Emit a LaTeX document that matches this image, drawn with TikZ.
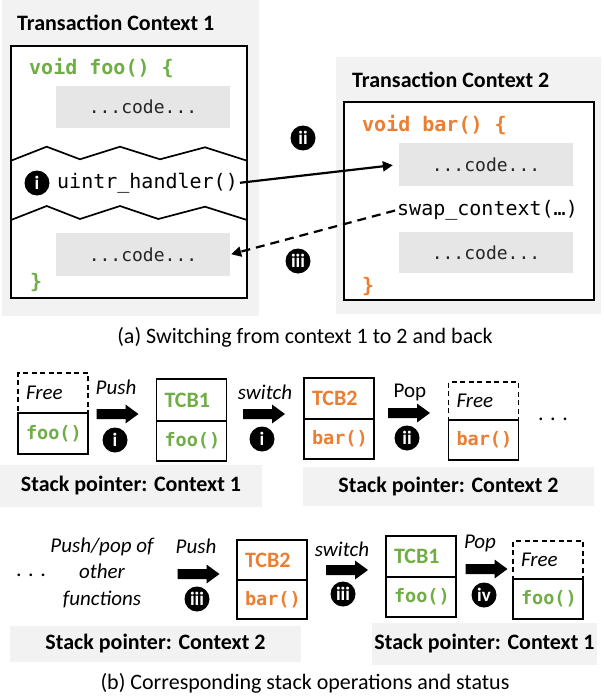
\documentclass[tikz,border=0pt]{standalone}
\usepackage{fontspec}
\setmainfont{Carlito}
\setsansfont{Carlito}
\setmonofont{DejaVu Sans Mono}
\usetikzlibrary{arrows.meta}

\definecolor{fgreen}{HTML}{70AD47}
\definecolor{forange}{HTML}{ED7D31}
\definecolor{panelgray}{HTML}{F2F2F2}
\definecolor{codegray}{HTML}{E6E6E6}

\tikzset{
  sz/.style 2 args={minimum width=#1, minimum height=#2},
  panel/.style={fill=panelgray, draw=none, inner sep=0pt},
  frame/.style={draw, fill=white, line width=1.9pt, inner sep=0pt},
  tear/.style={line width=1.7pt},
  codebox/.style={fill=codegray, inner sep=0pt, minimum width=174pt,
    text=black!85, font=\fontsize{18}{20}\ttfamily},
  txt/.style={inner sep=0pt, font=\fontsize{22}{26.5}\selectfont},
  btxt/.style={inner sep=0pt, font=\fontsize{22}{26.5}\selectfont\bfseries},
  itxt/.style={inner sep=0pt, font=\fontsize{21}{26.5}\selectfont\itshape},
  code/.style={inner sep=0pt, anchor=west, font=\fontsize{20}{22}\ttfamily},
  bcode/.style={code, font=\fontsize{20}{22}\ttfamily\bfseries},
  num/.style={circle, fill=black, text=white, minimum size=25pt, inner sep=0pt,
    font=\fontsize{19}{19}\selectfont\bfseries},
  cell/.style={draw, line width=1.6pt, inner xsep=8pt, inner ysep=0pt,
    text width=54pt, align=left, minimum height=40pt},
  freecell/.style={cell, dash pattern=on 5pt off 3.5pt,
    font=\fontsize{21}{24}\selectfont\itshape},
  tcbcell/.style={cell, font=\fontsize{22}{24}\selectfont\bfseries},
  fncell/.style={cell, font=\fontsize{18.5}{20}\ttfamily\bfseries},
  bar/.style={fill=panelgray, inner sep=0pt,
    font=\fontsize{22}{26.5}\selectfont\bfseries},
  jump/.style={-{Triangle[length=10pt,width=10pt]}, line width=2.2pt},
  % thick block arrow, 42 long, shaft 10 high, head 19 high
  blockarrow/.pic={
    \fill[black] (-21,-5) -- (8,-5) -- (8,-9.5) -- (21,0) -- (8,9.5)
      -- (8,5) -- (-21,5) -- cycle;
  },
}

\begin{document}
\begin{tikzpicture}[x=1pt, y=-1pt]
\useasboundingbox (0,0) rectangle (603,698);

% ---------- (a) two transaction contexts ----------
\node[panel, sz={257pt}{316pt}] (panelA) at (130.5,158) {};
\node[panel, sz={265pt}{257pt}] (panelB) at (468.5,185.5) {};

\node[btxt, anchor=west] (titleA) at (17,23) {Transaction Context 1};
\node[btxt, anchor=west] (titleB) at (352,80) {Transaction Context 2};

\node[frame, sz={236pt}{252pt}] (frameA) at (129,172) {};
\node[frame, sz={250pt}{198pt}] (frameB) at (469,201) {};

% context 1: foo()
\node[bcode, text=fgreen] (foohead) at (29,68) {void foo() \{};
\node[codebox, minimum height=42pt] (code1) at (143,107) {...code...};
\draw[tear] (11,160.7) -- (46.7,146.7) -- (80,159.3) -- (120,146.7)
  -- (160,159.3) -- (205,147.3) -- (247,160.7);
\node[num] (stepA1) at (37,183) {i};
\node[code] (uintr) at (57,183) {uintr\_handler()};
\draw[tear] (11,220) -- (46.7,206) -- (80,219) -- (120,206)
  -- (158.3,219) -- (205,206.7) -- (247,220);
\node[codebox, minimum height=43pt] (code2) at (143,254.5) {...code...};
\node[bcode, text=fgreen] (fooend) at (30,283) {\}};

% context 2: bar()
\node[bcode, text=forange] (barhead) at (362,125) {void bar() \{};
\node[codebox, minimum height=43pt] (code3) at (486,164.5) {...code...};
\node[code] (swap) at (397,210) {swap\_context(…)};
\node[codebox, minimum height=41pt] (code4) at (486,252.5) {...code...};
\node[bcode, text=forange] (barend) at (362,287) {\}};

% control transfers
\node[num] (stepA2) at (303,138) {ii};
\node[num] (stepA3) at (298,261) {iii};
\draw[jump, shorten <=2pt, shorten >=6pt] (uintr.east) -- (code3.west);
\draw[jump, dash pattern=on 9pt off 6pt, shorten <=2pt, shorten >=1pt]
  (swap.west) -- (code2.east);

\node[txt] (capA) at (305,337) {(a) Switching from context 1 to 2 and back};

% ---------- (b) stack operations, first row ----------
\node[freecell] (s1top) at (53,393) {Free};
\node[fncell, text=fgreen, minimum height=41pt] (s1bot) at (53,433.5) {foo()};

\node[itxt] (push1) at (116,387) {Push};
\pic (arr1) at (117.5,414) {blockarrow};
\node[num] (n1) at (115,440) {i};

\node[tcbcell, text=fgreen, minimum height=42pt] (s2top) at (191.5,400) {TCB1};
\node[fncell, text=fgreen] (s2bot) at (191.5,441) {foo()};

\node[itxt] (switch1) at (265,392) {switch};
\pic (arr2) at (264,414) {blockarrow};
\node[num] (n2) at (262,439) {i};

\node[tcbcell, text=forange, minimum height=41pt] (s3top) at (339,398.5) {TCB2};
\node[fncell, text=forange] (s3bot) at (339,439) {bar()};

\node[txt, font=\fontsize{21}{26.5}\selectfont] (pop1) at (410,392) {Pop};
\pic (arr3) at (409,413) {blockarrow};
\node[num] (n3) at (407,438) {ii};

\node[freecell, minimum height=38pt] (s4top) at (483.5,401) {Free};
\node[fncell, text=forange] (s4bot) at (483.5,440) {bar()};

\node[txt] (more1) at (553,419) {. . .};

\node[bar, sz={262pt}{42pt}] (sp1) at (131,486) {Stack pointer: Context 1};
\node[bar, sz={291pt}{39pt}] (sp2) at (448.5,486.5) {Stack pointer: Context 2};

% ---------- (b) stack operations, second row ----------
\node[txt] (more2) at (31,575) {. . .};
\node[itxt, align=center] (others) at (102,572.5) {Push/pop of\\other\\functions};

\node[itxt] (push2) at (196,546) {Push};
\pic (arr4) at (198.5,574) {blockarrow};
\node[num] (n4) at (197,599) {iii};

\node[tcbcell, text=forange] (s5top) at (272,560) {TCB2};
\node[fncell, text=forange, minimum height=39pt] (s5bot) at (272,599.5) {bar()};

\node[itxt] (switch2) at (342,549) {switch};
\pic (arr5) at (347,570) {blockarrow};
\node[num] (n5) at (343,594) {iii};

\node[tcbcell, text=fgreen, minimum height=41pt] (s6top) at (421,556.5) {TCB1};
\node[fncell, text=fgreen] (s6bot) at (421,597) {foo()};

\node[itxt] (pop2) at (480,543) {Pop};
\pic (arr6) at (486.5,569) {blockarrow};
\node[num] (n6) at (484,595) {iv};

\node[freecell, minimum height=38pt] (s7top) at (548,560) {Free};
\node[fncell, text=fgreen] (s7bot) at (548,599) {foo()};

\node[bar, sz={291pt}{36pt}] (sp3) at (155.5,644) {Stack pointer: Context 2};
\node[bar, sz={225pt}{42pt}] (sp4) at (484.5,644) {Stack pointer: Context 1};

\node[txt] (capB) at (305,683) {(b) Corresponding stack operations and status};
\end{tikzpicture}
\end{document}
